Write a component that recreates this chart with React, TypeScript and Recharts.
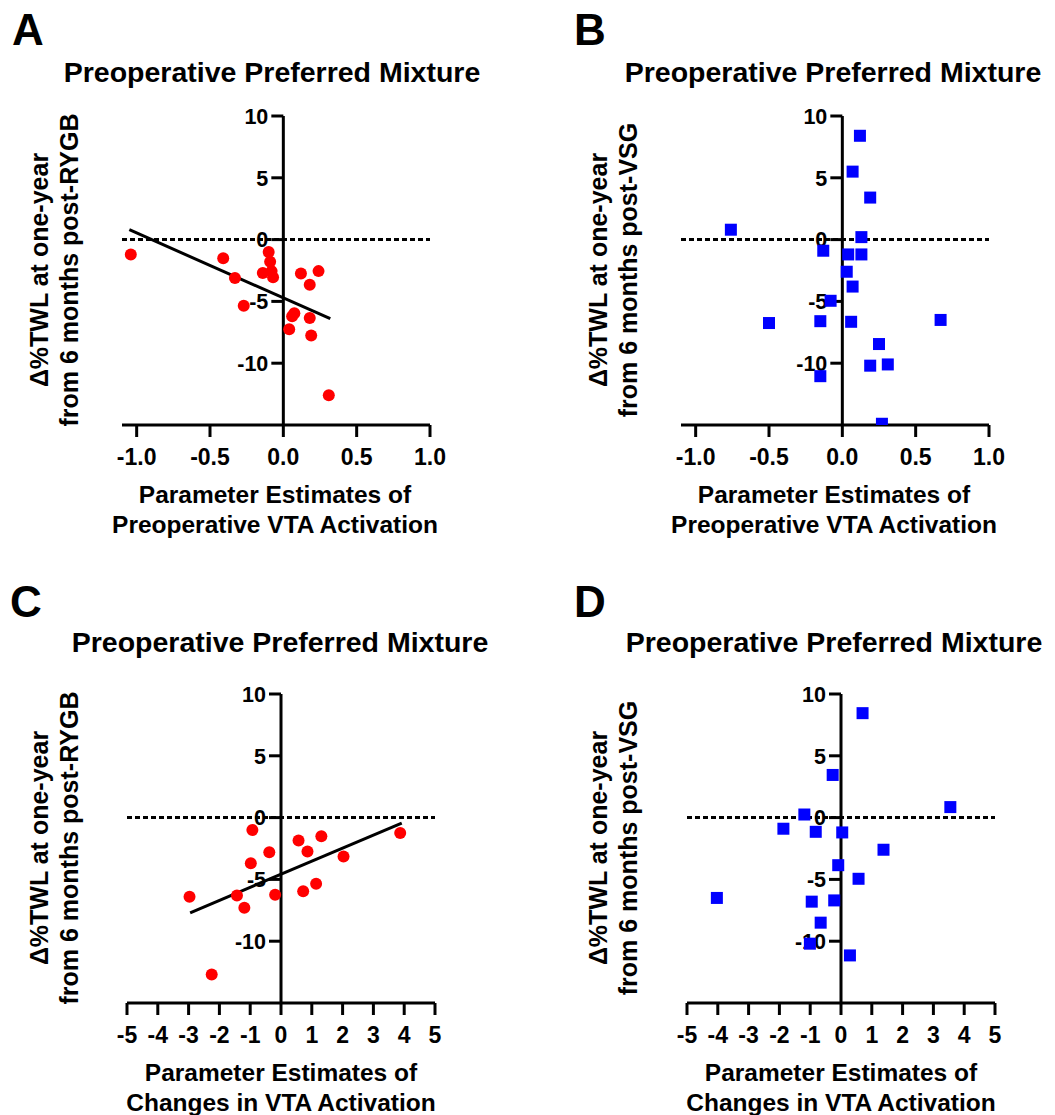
import React from 'react';
import { ScatterChart, Scatter, XAxis, YAxis, ReferenceLine, ReferenceDot } from 'recharts';

const FONT = '"Liberation Sans", Arial, Helvetica, sans-serif';

// ---------- data ----------
const rygbPrePoints = [
  { x: -1.04, y: -1.2 }, { x: -0.41, y: -1.5 }, { x: -0.33, y: -3.1 }, { x: -0.27, y: -5.35 },
  { x: -0.1, y: -1.0 }, { x: -0.09, y: -1.8 }, { x: -0.14, y: -2.7 }, { x: -0.08, y: -2.55 },
  { x: -0.07, y: -3.05 }, { x: 0.12, y: -2.75 }, { x: 0.24, y: -2.55 }, { x: 0.18, y: -3.65 },
  { x: 0.075, y: -5.95 }, { x: 0.06, y: -6.2 }, { x: 0.04, y: -7.25 }, { x: 0.18, y: -6.35 },
  { x: 0.19, y: -7.75 }, { x: 0.31, y: -12.6 },
];
const rygbPreFit = [{ x: -1.05, y: 0.8 }, { x: 0.32, y: -6.4 }];

const vsgPrePoints = [
  { x: 0.12, y: 8.4 }, { x: 0.07, y: 5.5 }, { x: 0.19, y: 3.4 }, { x: -0.76, y: 0.8 },
  { x: 0.13, y: 0.2 }, { x: -0.13, y: -0.9 }, { x: 0.04, y: -1.2 }, { x: 0.13, y: -1.2 },
  { x: 0.03, y: -2.6 }, { x: 0.07, y: -3.8 }, { x: -0.08, y: -4.95 }, { x: -0.5, y: -6.75 },
  { x: -0.15, y: -6.6 }, { x: 0.06, y: -6.65 }, { x: 0.67, y: -6.5 }, { x: 0.25, y: -8.45 },
  { x: 0.19, y: -10.2 }, { x: 0.31, y: -10.1 }, { x: -0.15, y: -11.05 }, { x: 0.27, y: -14.9 },
];

const rygbChangePoints = [
  { x: -2.97, y: -6.4 }, { x: -2.25, y: -12.7 }, { x: -1.43, y: -6.3 }, { x: -1.19, y: -7.3 },
  { x: -0.98, y: -3.7 }, { x: -0.93, y: -1.0 }, { x: -0.38, y: -2.8 }, { x: -0.19, y: -6.25 },
  { x: 0.57, y: -1.85 }, { x: 0.86, y: -2.75 }, { x: 1.31, y: -1.5 }, { x: 0.72, y: -5.95 },
  { x: 1.14, y: -5.35 }, { x: 2.03, y: -3.15 }, { x: 3.87, y: -1.25 },
];
const rygbChangeFit = [{ x: -2.95, y: -7.7 }, { x: 3.92, y: -0.45 }];

const vsgChangePoints = [
  { x: 0.7, y: 8.45 }, { x: -0.27, y: 3.45 }, { x: 3.55, y: 0.85 }, { x: -1.19, y: 0.25 },
  { x: -1.87, y: -0.9 }, { x: -0.82, y: -1.15 }, { x: 0.04, y: -1.2 }, { x: 1.38, y: -2.6 },
  { x: -0.09, y: -3.85 }, { x: 0.57, y: -4.95 }, { x: -4.03, y: -6.5 }, { x: -0.95, y: -6.8 },
  { x: -0.22, y: -6.7 }, { x: -0.66, y: -8.5 }, { x: -1.01, y: -10.2 }, { x: 0.29, y: -11.15 },
];

const preXTicks = [-1, -0.5, 0, 0.5, 1];
const preXDomain: [number, number] = [-1.1, 1];
const changeXTicks = [-5, -4, -3, -2, -1, 0, 1, 2, 3, 4, 5];
const changeXDomain: [number, number] = [-5, 5];
const yTicks = [-10, -5, 0, 5, 10];
const yDomain: [number, number] = [-15, 10];

const panelLetters = ['A', 'B', 'C', 'D'];
const panelTitle = 'Preoperative Preferred Mixture';
const yTitleLine1 = '\u0394%TWL at one-year';
const yTitleLine2RYGB = 'from 6 months post-RYGB';
const yTitleLine2VSG = 'from 6 months post-VSG';
const xTitleLine1 = 'Parameter Estimates of';
const xTitleLine2Pre = 'Preoperative VTA Activation';
const xTitleLine2Change = 'Changes in VTA Activation';

// ---------- shapes ----------
const RedCircle = (props: any) => <circle cx={props.cx} cy={props.cy} r={6} fill="#FF0000" />;
const BlueSquare = (props: any) => (
  <rect x={props.cx - 6} y={props.cy - 6} width={12} height={12} fill="#0000FF" />
);

const makeYTick = (label: string) => (props: any) => {
  const { cx, cy } = props;
  return (
    <g>
      <line x1={cx - 12} y1={cy} x2={cx} y2={cy} stroke="#000" strokeWidth={3} />
      <text
        x={cx - 15}
        y={cy + 7.7}
        textAnchor="end"
        fontSize={21.5}
        fontWeight={700}
        fontFamily={FONT}
        fill="#000"
      >
        {label}
      </text>
    </g>
  );
};

type PanelProps = {
  plotLeft: number;
  plotTop: number;
  plotW: number;
  plotH: number;
  points: { x: number; y: number }[];
  fit?: { x: number; y: number }[];
  xDomain: [number, number];
  xTicks: number[];
  decimals: number;
  marker: 'circle' | 'square';
};

const M = 20;
const XAXIS_H = 60;

function Panel(p: PanelProps) {
  const width = p.plotW + 2 * M;
  const height = p.plotH + M + XAXIS_H;
  return (
    <div style={{ position: 'absolute', left: p.plotLeft - M, top: p.plotTop - M }}>
      <ScatterChart width={width} height={height} margin={{ top: M, right: M, bottom: 0, left: M }}>
        <XAxis
          type="number"
          dataKey="x"
          domain={p.xDomain}
          ticks={p.xTicks}
          interval={0}
          allowDataOverflow
          height={XAXIS_H}
          axisLine={{ stroke: '#000', strokeWidth: 3 }}
          tickLine={{ stroke: '#000', strokeWidth: 3 }}
          tickSize={12}
          tickMargin={12}
          tickFormatter={(v: number) => v.toFixed(p.decimals)}
          tick={{ fill: '#000', fontSize: 23, fontWeight: 700, fontFamily: FONT }}
        />
        <YAxis type="number" dataKey="y" domain={yDomain} allowDataOverflow hide />
        <ReferenceLine y={0} stroke="#000" strokeWidth={3} strokeDasharray="5 3" />
        <ReferenceLine x={0} stroke="#000" strokeWidth={3} />
        {yTicks.map((t) => (
          <ReferenceDot key={t} x={0} y={t} r={1} shape={makeYTick(String(t))} />
        ))}
        {p.fit && (
          <ReferenceLine
            segment={[p.fit[0], p.fit[1]]}
            stroke="#000"
            strokeWidth={3}
          />
        )}
        <Scatter
          data={p.points}
          isAnimationActive={false}
          shape={p.marker === 'circle' ? RedCircle : BlueSquare}
        />
      </ScatterChart>
    </div>
  );
}

const txt = { fontFamily: FONT, fontWeight: 700, fill: '#000' } as const;

function YTitle({ x1, x2, cy, line2 }: { x1: number; x2: number; cy: number; line2: string }) {
  return (
    <g>
      <text {...txt} fontSize={25} textAnchor="middle" transform={`translate(${x1},${cy}) rotate(-90)`}>
        {yTitleLine1}
      </text>
      <text {...txt} fontSize={25} textAnchor="middle" transform={`translate(${x2},${cy}) rotate(-90)`}>
        {line2}
      </text>
    </g>
  );
}

function XTitle({ cx, y1, line2 }: { cx: number; y1: number; line2: string }) {
  return (
    <g>
      <text {...txt} fontSize={24.5} textAnchor="middle" x={cx} y={y1}>
        {xTitleLine1}
      </text>
      <text {...txt} fontSize={24.5} textAnchor="middle" x={cx} y={y1 + 30}>
        {line2}
      </text>
    </g>
  );
}

export default function App() {
  return (
    <div
      style={{
        position: 'absolute',
        left: 0,
        top: 0,
        width: 1055,
        height: 1115,
        background: '#fff',
        overflow: 'hidden',
      }}
    >
      <Panel
        plotLeft={122}
        plotTop={116}
        plotW={308}
        plotH={309}
        points={rygbPrePoints}
        fit={rygbPreFit}
        xDomain={preXDomain}
        xTicks={preXTicks}
        decimals={1}
        marker="circle"
      />
      <Panel
        plotLeft={681}
        plotTop={116}
        plotW={308}
        plotH={309}
        points={vsgPrePoints}
        xDomain={preXDomain}
        xTicks={preXTicks}
        decimals={1}
        marker="square"
      />
      <Panel
        plotLeft={127}
        plotTop={694}
        plotW={308}
        plotH={309}
        points={rygbChangePoints}
        fit={rygbChangeFit}
        xDomain={changeXDomain}
        xTicks={changeXTicks}
        decimals={0}
        marker="circle"
      />
      <Panel
        plotLeft={687}
        plotTop={694}
        plotW={308}
        plotH={309}
        points={vsgChangePoints}
        xDomain={changeXDomain}
        xTicks={changeXTicks}
        decimals={0}
        marker="square"
      />
      <svg
        width={1055}
        height={1115}
        style={{ position: 'absolute', left: 0, top: 0, pointerEvents: 'none' }}
      >
        <text {...txt} fontSize={44} x={12} y={45}>{panelLetters[0]}</text>
        <text {...txt} fontSize={44} x={574} y={45}>{panelLetters[1]}</text>
        <text {...txt} fontSize={44} x={10} y={617}>{panelLetters[2]}</text>
        <text {...txt} fontSize={44} x={574} y={617}>{panelLetters[3]}</text>

        <text {...txt} fontSize={28.5} textAnchor="middle" x={272} y={82}>{panelTitle}</text>
        <text {...txt} fontSize={28.5} textAnchor="middle" x={833} y={82}>{panelTitle}</text>
        <text {...txt} fontSize={28.5} textAnchor="middle" x={280} y={652}>{panelTitle}</text>
        <text {...txt} fontSize={28.5} textAnchor="middle" x={834} y={652}>{panelTitle}</text>

        <YTitle x1={48} x2={78} cy={270} line2={yTitleLine2RYGB} />
        <YTitle x1={607} x2={637} cy={270} line2={yTitleLine2VSG} />
        <YTitle x1={48} x2={78} cy={848} line2={yTitleLine2RYGB} />
        <YTitle x1={607} x2={637} cy={848} line2={yTitleLine2VSG} />

        <XTitle cx={275} y1={503} line2={xTitleLine2Pre} />
        <XTitle cx={834} y1={503} line2={xTitleLine2Pre} />
        <XTitle cx={281} y1={1081} line2={xTitleLine2Change} />
        <XTitle cx={841} y1={1081} line2={xTitleLine2Change} />
      </svg>
    </div>
  );
}
